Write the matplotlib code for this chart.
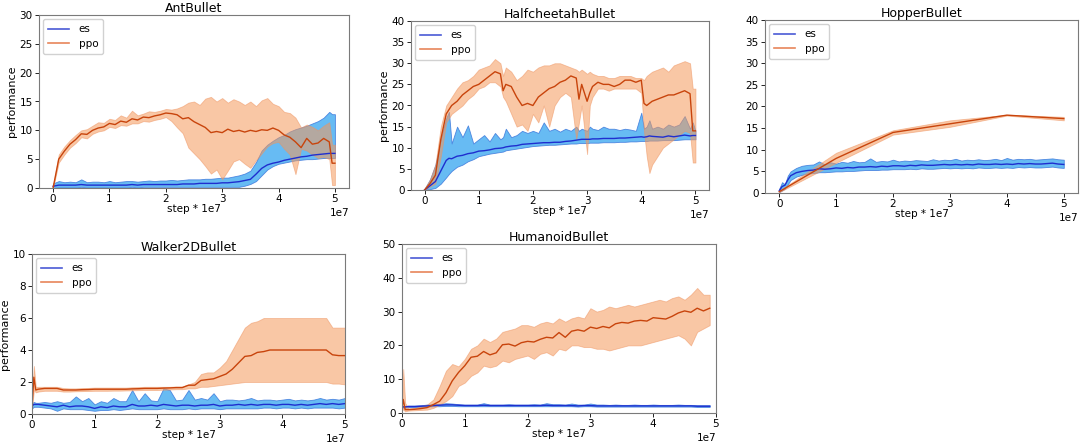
import numpy as np
import matplotlib
matplotlib.use("Agg")
import matplotlib.pyplot as plt
from matplotlib.lines import Line2D


W, H = 1084, 444

# ---------------- data (x in units of 1e7 steps) ----------------

# AntBullet
ant_x = [0, .1, .2, .3, .4, .5, .6, .7, .8, .9, 1.0, 1.1, 1.2, 1.3, 1.4, 1.5, 1.6, 1.7, 1.8, 1.9,
         2.0, 2.1, 2.2, 2.3, 2.4, 2.5, 2.6, 2.7, 2.8, 2.9, 3.0, 3.1, 3.2, 3.3, 3.4, 3.5, 3.6, 3.7,
         3.8, 3.9, 4.0, 4.1, 4.2, 4.3, 4.4, 4.5, 4.6, 4.7, 4.8, 4.9, 4.95, 5.0]
ant_ppo = [0, 5.0, 6.4, 7.6, 8.4, 9.4, 9.3, 10.0, 10.4, 10.6, 11.2, 11.0, 11.6, 11.4, 12.0, 11.8, 12.3,
           12.2, 12.5, 12.7, 13.0, 12.9, 12.7, 12.0, 12.2, 11.5, 11.0, 10.5, 9.6, 9.8, 9.6, 10.2, 9.8,
           10.0, 9.7, 10.0, 9.8, 10.1, 10.0, 10.4, 10.0, 9.2, 8.8, 8.0, 7.0, 8.6, 7.6, 7.8, 8.6, 8.0,
           4.3, 4.3]
ant_ppo_hi = [0.3, 5.8, 7.2, 8.3, 9.2, 10.0, 10.2, 10.8, 11.4, 11.3, 12.0, 11.8, 12.6, 12.2, 13.4,
              12.6, 12.9, 13.3, 13.2, 13.4, 13.7, 13.6, 13.8, 14.2, 14.8, 15.0, 14.4, 15.5, 15.8,
              15.0, 15.6, 14.8, 15.4, 15.0, 14.4, 15.0, 14.2, 15.2, 15.6, 14.6, 14.2, 13.2, 13.0,
              12.2, 10.5, 11.0, 10.6, 10.0, 10.8, 11.4, 7.5, 7.5]
ant_ppo_lo = [0, 4.4, 5.8, 7.0, 7.8, 8.8, 8.6, 9.4, 9.8, 10.0, 10.6, 10.4, 10.9, 10.8, 11.2, 11.2,
              11.6, 11.5, 11.8, 12.0, 12.3, 11.6, 10.5, 9.5, 7.0, 6.0, 5.0, 3.8, 2.5, 3.2, 1.5, 3.0,
              4.6, 5.0, 4.2, 3.5, 4.8, 6.0, 7.2, 7.8, 8.0, 6.8, 5.8, 2.4, 6.8, 6.5, 5.8, 5.2, 5.4,
              5.0, 0.5, 0.5]
ant_es = [0.3, 0.5, 0.5, 0.5, 0.5, 0.6, 0.5, 0.5, 0.5, 0.5, 0.5, 0.5, 0.5, 0.5, 0.6, 0.5, 0.6, 0.6,
          0.6, 0.6, 0.6, 0.6, 0.6, 0.7, 0.7, 0.7, 0.8, 0.8, 0.8, 0.8, 0.9, 0.9, 1.0, 1.1, 1.3, 1.5,
          2.4, 3.4, 4.0, 4.3, 4.5, 4.8, 5.0, 5.2, 5.4, 5.5, 5.7, 5.8, 5.9, 6.0, 6.0, 6.0]
ant_es_hi = [0.8, 1.2, 1.0, 1.1, 1.0, 1.5, 1.0, 1.1, 1.1, 1.0, 1.2, 1.0, 1.1, 1.2, 1.2, 1.1, 1.2,
             1.3, 1.2, 1.3, 1.3, 1.4, 1.3, 1.4, 1.5, 1.5, 1.5, 1.6, 1.6, 1.7, 1.8, 1.8, 2.0, 2.2,
             2.5, 3.0, 4.5, 6.5, 7.5, 8.2, 8.8, 9.2, 9.8, 10.2, 10.5, 10.8, 11.2, 11.6, 12.2, 13.2,
             12.8, 12.8]
ant_es_lo = [0, 0.1, 0.1, 0.1, 0.1, 0.2, 0.1, 0.1, 0.1, 0.1, 0.1, 0.1, 0.1, 0.1, 0.2, 0.1, 0.2, 0.2,
             0.2, 0.2, 0.2, 0.2, 0.2, 0.2, 0.2, 0.2, 0.2, 0.2, 0.2, 0.2, 0.2, 0.2, 0.2, 0.2, 0.4,
             0.7, 1.2, 2.2, 3.2, 3.8, 4.2, 4.4, 4.6, 4.8, 4.9, 5.0, 5.0, 5.1, 5.2, 5.2, 5.2, 5.2]

# HalfcheetahBullet
hc_x = [0, .1, .2, .3, .4, .45, .5, .6, .7, .8, .9, 1.0, 1.1, 1.2, 1.3, 1.4, 1.45, 1.5, 1.6, 1.7,
        1.8, 1.9, 2.0, 2.1, 2.2, 2.3, 2.4, 2.5, 2.6, 2.7, 2.8, 2.85, 2.9, 3.0, 3.05, 3.1, 3.2, 3.3,
        3.4, 3.5, 3.6, 3.7, 3.8, 3.9, 4.0, 4.05, 4.1, 4.15, 4.2, 4.3, 4.4, 4.5, 4.6, 4.7, 4.8, 4.9,
        4.95, 5.0]
hc_ppo = [0.0, 1.5, 3.5, 12, 18, 19, 20, 21, 22.5, 23.5, 24.5, 25, 26, 27, 28, 27.5, 23.5, 25, 24.5,
          22, 20, 20.5, 20, 22, 23, 24, 24.5, 25.5, 26, 27, 26.5, 21.5, 25, 21, 23, 24.5, 25.5, 25,
          25, 24.5, 25, 26, 26, 25.5, 26, 20.5, 20, 20.5, 21, 21.5, 22, 22.5, 22.5, 23, 23.5, 22.8,
          14, 14]
hc_ppo_hi = [0.3, 2.5, 6, 15, 20, 21, 22, 24, 25.5, 26, 27, 28.5, 29, 29.5, 31, 30, 27, 29, 28, 26,
             27, 28.5, 28, 29, 29.5, 29.5, 30, 30, 29.5, 29, 28.5, 28, 28.5, 27.5, 28, 27.5, 27, 27,
             26.5, 26.5, 27, 27, 27, 26.5, 26.5, 26, 27, 27.5, 28, 28.5, 29, 28, 29.5, 30, 30.5,
             30, 24, 24]
hc_ppo_lo = [0, 0.8, 1.5, 8, 16, 17, 18, 19, 20, 21.5, 22.5, 24, 24.5, 25.5, 25.5, 24.5, 22, 21,
             18, 15, 15.5, 14, 18, 16, 20, 15, 20, 22, 23, 22, 12, 16, 20, 8.5, 20, 22, 24, 24,
             23.5, 24, 24, 24, 24, 24, 23, 14, 8, 4, 6, 8, 10, 11, 12, 13, 14, 13.5, 6.5, 6.5]
hc_es = [0, 1, 2, 4.5, 7, 7.5, 7.4, 8, 8.2, 8.6, 8.8, 9.2, 9.3, 9.5, 9.8, 9.9, 10, 10.2, 10.4,
         10.5, 10.8, 10.9, 11, 11.1, 11.2, 11.2, 11.3, 11.3, 11.5, 11.6, 11.8, 11.9, 12, 12, 12,
         12.1, 12.1, 12.2, 12.2, 12.2, 12.3, 12.3, 12.4, 12.5, 12.6, 12.5, 12.6, 12.8, 12.7, 12.6,
         12.5, 12.8, 12.6, 12.8, 13, 12.8, 12.9, 12.9]
hc_es_hi = [0.3, 2.5, 6, 12, 17, 18.5, 11, 15, 12.5, 15.3, 11, 12, 13, 11.5, 13.5, 12, 12.5, 14.5,
            12.5, 13, 14, 13.5, 14, 13.5, 16, 14, 14.5, 13.8, 14.5, 14, 15, 14, 14.5, 14, 15, 14.5,
            14.2, 15, 14.5, 14.5, 14.2, 14.5, 14.3, 14, 18.3, 14.5, 15, 16.5, 14.5, 15, 14.5, 15.5,
            15, 15.5, 17.5, 14.5, 16, 14]
hc_es_lo = [0, 0.2, 0.5, 1.5, 3, 3.8, 4.5, 5.5, 6, 6.8, 7.3, 8, 8.3, 8.6, 8.8, 9, 9.1, 9.4, 9.6,
            9.8, 10, 10.2, 10.4, 10.5, 10.6, 10.7, 10.7, 10.8, 10.9, 11, 11, 11.1, 11.1, 11.1, 11.2,
            11.2, 11.2, 11.3, 11.3, 11.3, 11.4, 11.4, 11.5, 11.5, 11.6, 11.6, 11.6, 11.7, 11.7,
            11.7, 11.8, 11.8, 11.8, 11.9, 12, 12, 12, 12]

# HopperBullet
hop_x = [0, .05, .1, .15, .2, .3, .4, .5, .6, .7, .8, .9, 1.0, 1.1, 1.2, 1.3, 1.4, 1.5, 1.6, 1.7,
         1.8, 1.9, 2.0, 2.1, 2.2, 2.3, 2.4, 2.5, 2.6, 2.7, 2.8, 2.9, 3.0, 3.1, 3.2, 3.3, 3.4, 3.5,
         3.6, 3.7, 3.8, 3.9, 4.0, 4.1, 4.2, 4.3, 4.4, 4.5, 4.6, 4.7, 4.8, 4.9, 5.0]
hop_es = [0.5, 1.5, 1.8, 3, 4, 4.7, 5, 5.2, 5.3, 5.6, 5.5, 5.6, 5.8, 5.7, 5.9, 5.8, 6, 6, 6.1, 6,
          6.2, 6.1, 6.3, 6.3, 6.2, 6.4, 6.3, 6.5, 6.4, 6.4, 6.5, 6.6, 6.5, 6.6, 6.5, 6.6, 6.5, 6.7,
          6.6, 6.6, 6.7, 6.6, 6.7, 6.6, 6.8, 6.7, 6.8, 6.7, 6.7, 6.8, 6.9, 6.7, 6.6]
hop_es_hi = [1, 2.5, 2, 4, 5, 5.8, 6.3, 6.5, 6.6, 7.3, 6.6, 7.1, 6.8, 7.2, 7, 7.4, 7.1, 7.2, 8, 7.2,
             7.4, 7.3, 7.7, 7.3, 7.5, 7.4, 7.6, 7.5, 7.4, 7.8, 7.5, 7.7, 7.6, 7.9, 7.5, 7.7, 7.6,
             7.8, 7.6, 7.7, 7.9, 7.6, 8.1, 7.7, 7.9, 7.8, 7.9, 7.7, 7.8, 7.9, 8, 7.8, 7.7]
hop_es_lo = [0.2, 0.6, 1, 2, 3, 3.8, 4.2, 4.5, 4.6, 4.8, 4.8, 4.9, 5, 5, 5.1, 5.1, 5.2, 5.3, 5.3,
             5.3, 5.4, 5.4, 5.5, 5.5, 5.5, 5.6, 5.5, 5.7, 5.6, 5.6, 5.7, 5.8, 5.7, 5.8, 5.7, 5.8,
             5.7, 5.9, 5.8, 5.8, 5.9, 5.8, 5.9, 5.8, 6, 5.9, 6, 5.9, 5.9, 6, 6.1, 5.9, 5.8]
hop_ppo_x = [0, 1, 2, 3, 4, 5]
hop_ppo = [0.3, 8, 14, 16, 18, 17.2]
hop_ppo_hi = [0.5, 9.3, 14.5, 16.8, 18.1, 17.6]
hop_ppo_lo = [0.2, 7, 13.5, 15.3, 17.9, 16.8]

# Walker2DBullet
wk_x = [0, .03, .06, .1, .2, .3, .4, .5, .6, .7, .8, .9, 1.0, 1.1, 1.2, 1.3, 1.4, 1.5, 1.6, 1.7,
        1.8, 1.9, 2.0, 2.1, 2.2, 2.3, 2.4, 2.5, 2.6, 2.7, 2.8, 2.9, 3.0, 3.1, 3.2, 3.3, 3.4, 3.5,
        3.6, 3.7, 3.8, 3.9, 4.0, 4.1, 4.2, 4.3, 4.4, 4.5, 4.6, 4.7, 4.8, 4.9, 5.0]
wk_ppo = [0.5, 2.3, 1.5, 1.55, 1.6, 1.6, 1.6, 1.5, 1.5, 1.5, 1.52, 1.53, 1.55, 1.55, 1.55, 1.55,
          1.55, 1.55, 1.57, 1.58, 1.6, 1.6, 1.6, 1.62, 1.63, 1.65, 1.65, 1.8, 1.8, 2.1, 2.15, 2.2,
          2.35, 2.5, 2.8, 3.2, 3.6, 3.65, 3.85, 3.9, 4.0, 4.0, 4.0, 4.0, 4.0, 4.0, 4.0, 4.0, 4.0,
          4.0, 3.7, 3.65, 3.65]
wk_ppo_hi = [1, 3, 1.7, 1.7, 1.7, 1.7, 1.7, 1.62, 1.6, 1.6, 1.62, 1.63, 1.65, 1.65, 1.65, 1.65,
             1.65, 1.65, 1.67, 1.68, 1.7, 1.7, 1.7, 1.7, 1.7, 1.72, 1.72, 1.85, 2.0, 2.5, 2.6, 2.6,
             2.9, 3.3, 4.0, 4.7, 5.4, 5.7, 5.8, 6.0, 6.0, 6.0, 6.0, 6.0, 6.0, 6.0, 6.0, 6.0, 6.0,
             6.0, 5.4, 5.4, 5.4]
wk_ppo_lo = [0.3, 1.5, 1.35, 1.4, 1.45, 1.45, 1.45, 1.4, 1.4, 1.42, 1.43, 1.44, 1.45, 1.45, 1.45,
             1.46, 1.46, 1.47, 1.48, 1.49, 1.5, 1.5, 1.5, 1.52, 1.53, 1.55, 1.55, 1.6, 1.6, 1.7,
             1.7, 1.75, 1.8, 1.85, 1.9, 1.95, 2.0, 2.0, 2.0, 2.0, 2.0, 2.0, 2.0, 2.0, 2.0, 2.0, 2.0,
             2.0, 2.0, 2.0, 1.9, 1.9, 1.85]
wk_es = [0.5, 0.6, 0.6, 0.6, 0.55, 0.5, 0.45, 0.55, 0.45, 0.5, 0.5, 0.45, 0.35, 0.45, 0.4, 0.5,
         0.45, 0.45, 0.6, 0.5, 0.5, 0.55, 0.5, 0.6, 0.55, 0.5, 0.55, 0.55, 0.5, 0.55, 0.55, 0.6,
         0.5, 0.55, 0.55, 0.6, 0.55, 0.6, 0.55, 0.6, 0.6, 0.55, 0.6, 0.6, 0.55, 0.6, 0.55, 0.6,
         0.65, 0.6, 0.65, 0.6, 0.65]
wk_es_hi = [0.7, 0.75, 0.7, 0.7, 0.75, 0.7, 0.8, 0.7, 0.75, 1.1, 0.8, 1.0, 0.6, 0.8, 0.7, 1.0,
            0.8, 0.8, 1.5, 0.8, 1.3, 0.85, 0.8, 1.6, 1.5, 0.85, 0.9, 1.5, 0.9, 1.0, 0.9, 1.3, 0.8,
            0.9, 0.9, 0.85, 0.9, 1.0, 0.85, 0.9, 0.9, 0.85, 0.9, 0.95, 0.85, 0.9, 0.85, 0.9, 1.0,
            0.9, 0.95, 0.9, 1.0]
wk_es_lo = [0.35, 0.45, 0.45, 0.45, 0.4, 0.35, 0.2, 0.35, 0.3, 0.3, 0.3, 0.25, 0.2, 0.25, 0.25,
            0.3, 0.25, 0.3, 0.35, 0.3, 0.3, 0.3, 0.3, 0.35, 0.3, 0.3, 0.3, 0.35, 0.3, 0.35, 0.35,
            0.35, 0.3, 0.35, 0.35, 0.35, 0.35, 0.35, 0.35, 0.4, 0.4, 0.35, 0.4, 0.4, 0.35, 0.4,
            0.35, 0.4, 0.4, 0.4, 0.4, 0.35, 0.4]

# HumanoidBullet
hu_x = [0, .02, .05, .1, .2, .3, .4, .5, .6, .7, .8, .9, 1.0, 1.1, 1.2, 1.3, 1.4, 1.5, 1.6, 1.7,
        1.8, 1.9, 2.0, 2.1, 2.2, 2.3, 2.4, 2.5, 2.6, 2.7, 2.8, 2.9, 3.0, 3.1, 3.2, 3.3, 3.4, 3.5,
        3.6, 3.7, 3.8, 3.9, 4.0, 4.1, 4.2, 4.3, 4.4, 4.5, 4.6, 4.7, 4.8, 4.9]
hu_ppo = [1.5, 4, 1, 1, 1.1, 1.3, 1.6, 2.5, 3.5, 6, 9.5, 12, 14, 16.5, 16.8, 18.2, 17.2, 17.8, 20.2,
          20.4, 19.8, 20.8, 21.2, 21, 21.8, 22.4, 22.2, 23.8, 22.4, 24.2, 24.6, 24.2, 25.4, 25.0,
          25.6, 25.2, 26.4, 26.8, 26.6, 27.2, 27.4, 27.2, 28.2, 28.0, 27.8, 28.6, 29.6, 30.2, 29.8,
          31.0, 30.2, 31.0]
hu_ppo_hi = [2, 13, 3, 1.3, 1.5, 2, 2.5, 4, 8, 12.5, 14.5, 13.8, 16, 19, 20, 22, 21, 22, 24, 24.5,
             25, 26, 26, 25.5, 26.5, 27, 26.5, 28, 27, 28, 28.5, 28, 31, 30, 30.5, 31.5, 31, 31.5,
             32, 31.5, 32, 32.5, 33, 33.5, 33, 34, 34.5, 33.5, 35, 37, 35, 35]
hu_ppo_lo = [1, 1, 0.5, 0.7, 0.8, 0.9, 1, 1.5, 2.5, 3.5, 5, 8, 9, 11, 12, 14, 13.5, 14, 15.5, 15,
             16, 16.5, 17, 16, 17.5, 18, 17, 19, 18.5, 20, 20, 19.5, 19.5, 19, 19, 18.5, 19, 19.5,
             20, 20, 20, 20.5, 21, 21.5, 22, 22.5, 23, 22, 20, 24, 25, 26]
hu_es = [1.8, 1.8, 1.8, 1.9, 1.9, 2.0, 2.1, 2.2, 2.3, 2.4, 2.4, 2.3, 2.2, 2.2, 2.2, 2.3, 2.2, 2.2,
         2.2, 2.2, 2.2, 2.2, 2.2, 2.2, 2.2, 2.3, 2.2, 2.2, 2.2, 2.2, 2.1, 2.2, 2.2, 2.1, 2.1, 2.1,
         2.1, 2.1, 2.1, 2.1, 2.1, 2.1, 2.1, 2.1, 2.1, 2.1, 2.1, 2.1, 2.1, 2.0, 2.0, 2.0]
hu_es_hi = [2.1, 2.1, 2.1, 2.2, 2.2, 2.3, 2.5, 2.6, 2.7, 2.9, 2.8, 2.6, 2.5, 2.5, 2.5, 2.9, 2.5,
            2.5, 2.5, 2.6, 2.5, 2.5, 2.5, 2.6, 2.5, 2.9, 2.6, 2.6, 2.5, 2.8, 2.5, 2.5, 2.8, 2.5,
            2.5, 2.4, 2.5, 2.4, 2.4, 2.5, 2.4, 2.4, 2.5, 2.4, 2.4, 2.4, 2.5, 2.4, 2.4, 2.3, 2.3, 2.3]
hu_es_lo = [1.6, 1.6, 1.6, 1.7, 1.7, 1.8, 1.9, 2.0, 2.0, 2.1, 2.1, 2.0, 2.0, 2.0, 2.0, 2.0, 2.0,
            2.0, 2.0, 2.0, 2.0, 2.0, 2.0, 2.0, 2.0, 2.0, 2.0, 2.0, 2.0, 2.0, 1.9, 2.0, 2.0, 1.9,
            1.9, 1.9, 1.9, 1.9, 1.9, 1.9, 1.9, 1.9, 1.9, 1.9, 1.9, 1.9, 1.9, 1.9, 1.9, 1.8, 1.8, 1.8]


# ---------------- style ----------------
ES_LINE = "#1f2ecf"
ES_FILL = "#4cb0f2"
ES_EDGE = "#3d78dc"
PPO_LINE = "#c8440c"
PPO_FILL = "#f59a5c"
PPO_EDGE = "#ee9360"

plt.rcParams["font.family"] = "DejaVu Sans"
plt.rcParams["font.size"] = 7.5


def box(left, top, right, bottom):
    # pixel box -> figure fraction rect
    return [left / W, 1 - bottom / H, (right - left) / W, (bottom - top) / H]


def draw_panel(ax, title, es, ppo, ylim, ylabel=True, tight_x=False):
    ex, em, ehi, elo = [np.array(a, dtype=float) for a in es]
    px, pm, phi, plo = [np.array(a, dtype=float) for a in ppo]

    ax.fill_between(ex * 1e7, elo, ehi, facecolor=ES_FILL, edgecolor=ES_EDGE,
                    alpha=0.85, lw=0.6)
    ax.plot(ex * 1e7, em, color=ES_LINE, lw=1.0)
    ax.fill_between(px * 1e7, plo, phi, facecolor=PPO_FILL, edgecolor=PPO_EDGE,
                    alpha=0.55, lw=0.6)
    ax.plot(px * 1e7, pm, color=PPO_LINE, lw=1.0)

    ax.set_ylim(*ylim)
    if tight_x:
        ax.set_xlim(0, 5e7)
    else:
        ax.set_xlim(-0.25e7, 5.25e7)
    ax.set_xticks(np.arange(0, 6) * 1e7)
    ax.set_title(title, fontsize=9, pad=2.5)
    ax.set_xlabel("step * 1e7", fontsize=7.5, labelpad=0)
    if ylabel:
        ax.set_ylabel("performance", fontsize=8, labelpad=2)
    ax.tick_params(labelsize=7.5, length=3, width=0.6, pad=1.5)
    ax.xaxis.get_offset_text().set_fontsize(7.5)
    for s in ax.spines.values():
        s.set_color("#7a7a7a")
        s.set_linewidth(0.8)

    handles = [Line2D([0], [0], color="#4a5ad6", lw=1.2),
               Line2D([0], [0], color="#e8855a", lw=1.2)]
    ax.legend(handles, ["es", "ppo"], loc="upper left", fontsize=7.5,
              handlelength=2.0, borderpad=0.5, labelspacing=0.45, handletextpad=0.9,
              borderaxespad=0.4, framealpha=0.9, edgecolor="#cccccc")


fig = plt.figure(figsize=(W / 100, H / 100), dpi=100)

ax1 = fig.add_axes(box(39, 15, 349, 188))
draw_panel(ax1, "AntBullet",
           (ant_x, ant_es, ant_es_hi, ant_es_lo),
           (ant_x, ant_ppo, ant_ppo_hi, ant_ppo_lo), (0, 30))

ax2 = fig.add_axes(box(411, 21, 709, 190))
draw_panel(ax2, "HalfcheetahBullet",
           (hc_x, hc_es, hc_es_hi, hc_es_lo),
           (hc_x, hc_ppo, hc_ppo_hi, hc_ppo_lo), (0, 40))

ax3 = fig.add_axes(box(765, 20, 1078, 193))
draw_panel(ax3, "HopperBullet",
           (hop_x, hop_es, hop_es_hi, hop_es_lo),
           (hop_ppo_x, hop_ppo, hop_ppo_hi, hop_ppo_lo), (0, 40), ylabel=False)

ax4 = fig.add_axes(box(32, 254, 345, 414))
draw_panel(ax4, "Walker2DBullet",
           (wk_x, wk_es, wk_es_hi, wk_es_lo),
           (wk_x, wk_ppo, wk_ppo_hi, wk_ppo_lo), (0, 10), tight_x=True)

ax5 = fig.add_axes(box(402, 244, 716, 413))
draw_panel(ax5, "HumanoidBullet",
           (hu_x, hu_es, hu_es_hi, hu_es_lo),
           (hu_x, hu_ppo, hu_ppo_hi, hu_ppo_lo), (0, 50), ylabel=False, tight_x=True)

fig.savefig("out.png", dpi=100)
